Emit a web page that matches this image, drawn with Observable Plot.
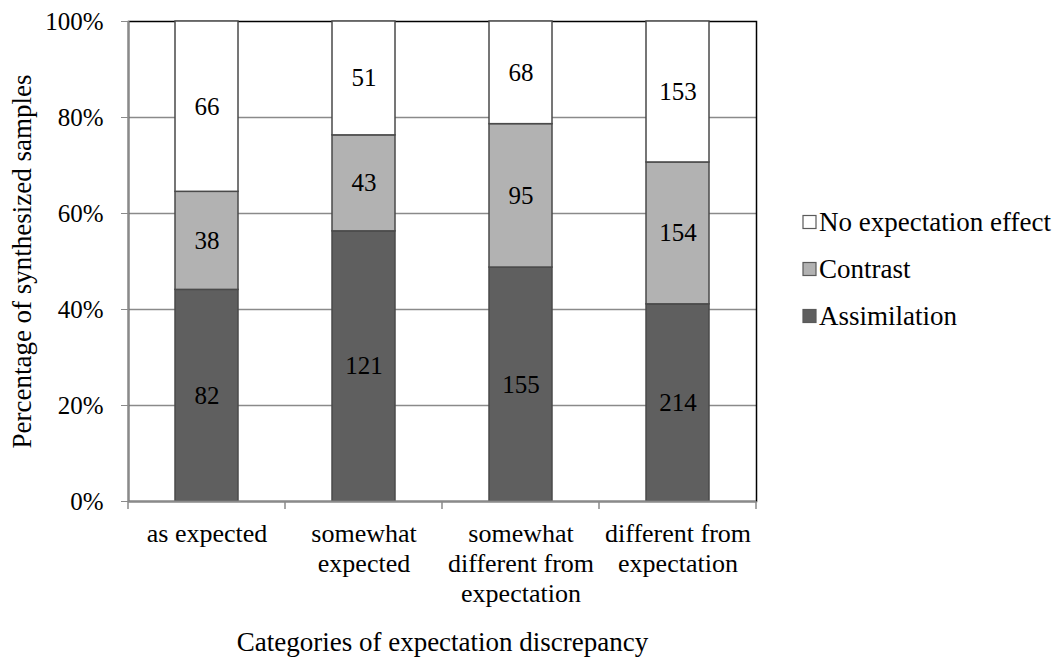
<!DOCTYPE html>
<html>
<head>
<meta charset="utf-8">
<script src="https://cdn.jsdelivr.net/npm/d3@7"></script>
<script src="https://cdn.jsdelivr.net/npm/@observablehq/plot@0.6"></script>
<style>
  body { margin: 0; background: #fff; }
  #chart svg { display: block; }
</style>
</head>
<body>
<div id="chart"></div>
<script>
// Categories of expectation discrepancy (x axis)
const categories = [
  "as expected",
  "somewhat\nexpected",
  "somewhat\ndifferent from\nexpectation",
  "different from\nexpectation"
];
// Effect types, bottom to top of each stack
const effects = ["Assimilation", "Contrast", "No expectation effect"];
// Sample counts per category
const assimilation = [82, 121, 155, 214];
const contrast = [38, 43, 95, 154];
const noEffect = [66, 51, 68, 153];
const yTicks = [0, 0.2, 0.4, 0.6, 0.8, 1];

const fills = {"Assimilation": "#5f5f5f", "Contrast": "#b2b2b2", "No expectation effect": "#ffffff"};

const rows = [];
const seriesByEffect = [assimilation, contrast, noEffect];
effects.forEach((effect, j) => {
  categories.forEach((cat, i) => rows.push({category: cat, effect, count: seriesByEffect[j][i]}));
});

const W = 1060, H = 659;
const mL = 128, mR = 304, mT = 21, mB = 158;
const band = (W - mL - mR) / categories.length;
const barInset = (band - 63) / 2;
const font = "'Liberation Serif', 'Times New Roman', serif";

const chart = Plot.plot({
  width: W,
  height: H,
  marginLeft: mL,
  marginRight: mR,
  marginTop: mT,
  marginBottom: mB,
  style: {fontFamily: font, fontSize: "25px", color: "#000", background: "#fff"},
  x: {domain: categories, padding: 0, label: null},
  y: {domain: [0, 1], label: null},
  color: {domain: effects, range: effects.map(e => fills[e])},
  marks: [
    // horizontal gridlines
    Plot.ruleY(yTicks.filter(t => t > 0 && t < 1), {stroke: "#8a8a8a", strokeWidth: 1.5}),
    // plot area border (top and right show as black)
    Plot.frame({stroke: "#000", strokeWidth: 1.5}),
    // stacked bars, normalized to 100% per category
    Plot.barY(rows, Plot.stackY({offset: "normalize"}, {
      x: "category", y: "count", fill: "effect",
      insetLeft: barInset,
      insetRight: barInset,
      stroke: "#4a4a4a",
      strokeWidth: 1.5
    })),
    // count labels in each segment
    Plot.text(rows, Plot.stackY({offset: "normalize"}, {
      x: "category", y: "count", text: "count",
      fill: "#000", fontSize: 25
    })),
    // gray axis lines
    Plot.ruleY([0], {stroke: "#8a8a8a", strokeWidth: 2}),
    Plot.ruleX([categories[0]], {stroke: "#8a8a8a", strokeWidth: 2, dx: -band / 2}),
    Plot.axisY({ticks: yTicks, tickFormat: d3.format(".0%"), tickSize: 7, tickPadding: 18,
      stroke: "#8a8a8a", fontSize: 25, fill: "#000"}),
    Plot.axisX({tickSize: 0, tickPadding: 19, lineHeight: 1.16, fontSize: 26, fill: "#000"}),
    // axis titles
    Plot.text(["Percentage of synthesized samples"], {
      frameAnchor: "left", textAnchor: "middle", dx: -106, rotate: -90, fontSize: 27, fill: "#000"
    }),
    Plot.text(["Categories of expectation discrepancy"], {
      frameAnchor: "bottom", lineAnchor: "middle", dy: 141, fontSize: 27, fill: "#000"
    })
  ]
});

document.getElementById("chart").appendChild(chart);

// Category boundary ticks below the baseline, and the legend, placed from the chart's scales
const svg = d3.select(chart);
const xs = chart.scale("x");
const ys = chart.scale("y");
const y0 = ys.apply(0);
const edges = categories.map(c => xs.apply(c)).concat([xs.apply(categories[categories.length - 1]) + xs.bandwidth]);
svg.append("g").selectAll("line").data(edges).join("line")
  .attr("x1", d => d).attr("x2", d => d)
  .attr("y1", y0).attr("y2", y0 + 8)
  .attr("stroke", "#8a8a8a").attr("stroke-width", 1.5);

const legendItems = effects.slice().reverse();
const lg = svg.append("g").attr("font-family", font).attr("font-size", 27).attr("text-anchor", "start");
legendItems.forEach((e, i) => {
  const cy = 222 + i * 47;
  lg.append("rect").attr("x", 803).attr("y", cy - 6.5).attr("width", 13).attr("height", 13)
    .attr("fill", fills[e]).attr("stroke", "#5a5a5a").attr("stroke-width", 1.2);
  lg.append("text").attr("x", 819).attr("y", cy).attr("dy", "0.35em").attr("fill", "#000").text(e);
});
</script>
</body>
</html>
